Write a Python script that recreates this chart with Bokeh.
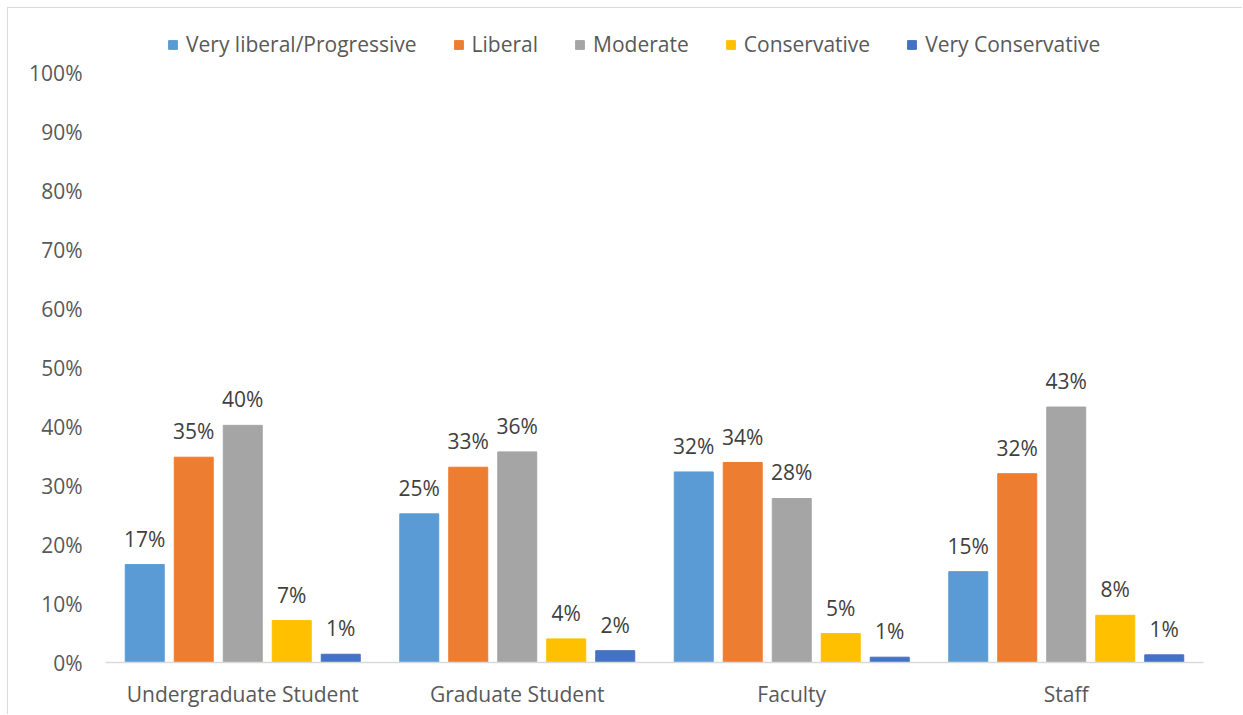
from bokeh.plotting import figure
from bokeh.models import ColumnDataSource, FactorRange, Range1d, FixedTicker, Legend, LegendItem, NumeralTickFormatter
from bokeh.transform import dodge
from bokeh.core.properties import value
from bokeh.embed import file_html
from bokeh.resources import INLINE

groups = ["Undergraduate Student", "Graduate Student", "Faculty", "Staff"]
series = ["Very liberal/Progressive", "Liberal", "Moderate", "Conservative", "Very Conservative"]
very_liberal = [0.166, 0.252, 0.323, 0.154]
liberal = [0.348, 0.331, 0.339, 0.320]
moderate = [0.402, 0.357, 0.278, 0.433]
conservative = [0.071, 0.040, 0.049, 0.080]
very_conservative = [0.014, 0.020, 0.009, 0.013]
y_ticks = [0, 0.1, 0.2, 0.3, 0.4, 0.5, 0.6, 0.7, 0.8, 0.9, 1.0]

colors = ["#5B9BD5", "#ED7D31", "#A5A5A5", "#FFC000", "#4472C4"]
all_vals = [very_liberal, liberal, moderate, conservative, very_conservative]

FONT = "Open Sans"
FS = "21px"
W, H = 1235, 707
p = figure(width=W, height=H, x_range=FactorRange(*groups, range_padding=0),
           y_range=Range1d(0, 1.095), output_backend="svg", toolbar_location=None,
           min_border_left=97, min_border_right=40, min_border_top=8, min_border_bottom=53)
p.outline_line_color = None
p.xgrid.grid_line_color = None
p.ygrid.grid_line_color = None
p.background_fill_color = "white"
p.border_fill_color = "white"

step = 0.1785
width = 0.142
offsets = [-2 * step, -step, 0, step, 2 * step]
items = []
for name, vals, col, off in zip(series, all_vals, colors, offsets):
    src = ColumnDataSource(dict(g=groups, v=vals, lab=[f"{round(v * 100)}%" for v in vals]))
    r = p.vbar(x=dodge("g", off, range=p.x_range), top="v", width=width, source=src,
               fill_color=col, line_color=col)
    p.text(x=dodge("g", off, range=p.x_range), y="v", text="lab", source=src,
           text_align="center", text_baseline="alphabetic", y_offset=-26,
           text_font=value(FONT), text_font_size=FS, text_color="#404040")
    items.append(LegendItem(label=name, renderers=[r]))

legend = Legend(items=items, orientation="horizontal", location=(62, 604),
                label_text_font=FONT, label_text_font_size=FS, label_text_color="#595959",
                glyph_width=11, glyph_height=11, spacing=36, label_standoff=8,
                background_fill_alpha=0, border_line_color=None, padding=0, margin=0)
p.add_layout(legend, "center")

p.yaxis.ticker = FixedTicker(ticks=y_ticks)
p.yaxis.formatter = NumeralTickFormatter(format="0%")
p.yaxis.axis_line_color = None
p.yaxis.major_tick_line_color = None
p.yaxis.minor_tick_line_color = None
p.yaxis.major_tick_out = 0
p.yaxis.major_tick_in = 0
p.yaxis.major_label_text_font = FONT
p.yaxis.major_label_text_font_size = FS
p.yaxis.major_label_text_color = "#595959"
p.yaxis.major_label_standoff = 23

p.xaxis.axis_line_color = "#D9D9D9"
p.xaxis.axis_line_width = 1.5
p.xaxis.major_tick_line_color = None
p.xaxis.minor_tick_line_color = None
p.xaxis.major_tick_out = 0
p.xaxis.major_tick_in = 0
p.xaxis.major_label_text_font = FONT
p.xaxis.major_label_text_font_size = FS
p.xaxis.major_label_text_color = "#595959"
p.xaxis.major_label_standoff = 17

p.styles = {"margin-left": "7px", "margin-top": "7px",
            "border-left": "1px solid #D9D9D9", "border-top": "1px solid #D9D9D9"}

open("out.html", "w").write(file_html(p, INLINE))
